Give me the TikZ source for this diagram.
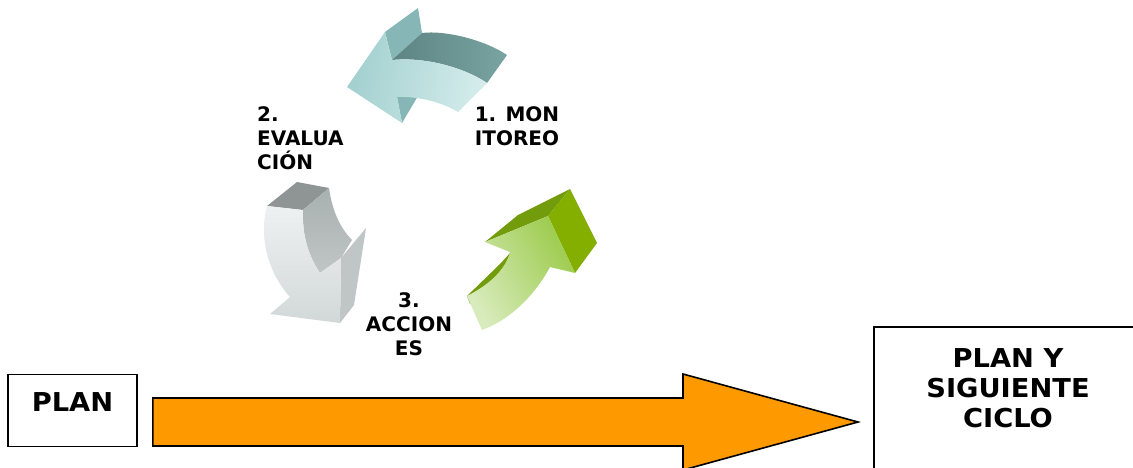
\documentclass[tikz,border=0pt]{standalone}
\usepackage{fontspec}
\setmainfont{DejaVu Sans}
\newfontfamily\stagefont[FakeStretch=1.05]{DejaVu Sans}
\usepackage{tikz}
\usetikzlibrary{calc}
\definecolor{arrowfill}{HTML}{FF9900}
\definecolor{tealfront}{HTML}{A2D0CF}
\definecolor{tealpale}{HTML}{D5ECEC}
\definecolor{tealside}{HTML}{86B7B6}
\definecolor{tealdark}{HTML}{5D8482}
\definecolor{tealmid}{HTML}{78A4A2}
\definecolor{greyfront}{HTML}{EEF1F1}
\definecolor{greyback}{HTML}{D2D8D8}
\definecolor{greytop}{HTML}{8F9494}
\definecolor{greyinner}{HTML}{A9B0B0}
\definecolor{greyside}{HTML}{C0C5C5}
\definecolor{greenpale}{HTML}{D8EBBC}
\definecolor{greenfront}{HTML}{9CCB4C}
\definecolor{greentop}{HTML}{739C0C}
\definecolor{greenside}{HTML}{84AF00}
\tikzset{cyclelabel/.style={font=\fontsize{20}{24}\selectfont\bfseries, inner sep=0pt},
  stagebox/.style={draw=black, line width=1.8pt, fill=white, inner sep=0pt},
  stagetext/.style={font=\stagefont\fontsize{26}{30}\selectfont\bfseries, inner sep=0pt},
  bigarrow/.style={fill=arrowfill, draw=black, line width=1.6pt}}

\begin{document}
\begin{tikzpicture}[x=1pt, y=-1pt]
      \useasboundingbox (0, 0) rectangle (1133, 467);
      \clip (0, 0) rectangle (1133, 467);

      \fill [tealside] (385, 32) -- (418, 8) -- (422, 33) -- (392, 60) -- cycle;
      \shade [left color=tealdark, right color=tealmid] (392, 60) -- (422, 33) .. controls (445, 30) and (485, 40) .. (507, 55) -- (487, 83) .. controls (460, 65) and (420, 57) .. (392, 60) -- cycle;
      \fill [tealside] (397, 97) -- (418, 96) -- (402, 123) -- cycle;
      \shade [left color=tealfront, right color=tealpale, shading angle=80] (347, 87) -- (385, 32) -- (392, 60) .. controls (420, 57) and (460, 65) .. (487, 83) -- (458, 112) .. controls (440, 101) and (415, 96) .. (397, 97) -- (402, 123) -- cycle;

      \fill [greytop] (267, 206) -- (297, 182) -- (329, 188) -- (303, 210) -- cycle;
      \shade [top color=greyinner, bottom color=greyside] (303, 210) -- (329, 188) .. controls (332, 210) and (340, 228) .. (352, 240) -- (341, 258) -- (320, 273) .. controls (308, 255) and (302, 235) .. (303, 210) -- cycle;
      \fill [greyside] (341, 258) -- (366, 228) -- (354, 305) -- (340, 323) -- cycle;
      \shade [top color=greyfront, bottom color=greyback] (267, 206) .. controls (258, 240) and (270, 275) .. (290, 297) -- (270, 314) -- (340, 323) -- (341, 258) -- (320, 273) .. controls (308, 255) and (302, 235) .. (303, 210) -- cycle;

      \fill [greentop] (485, 242) -- (518, 215) -- (570, 189) -- (548, 216) -- cycle;
      \fill [greenside] (548, 216) -- (570, 189) -- (597, 243) -- (575, 273) -- cycle;
      \fill [greentop] (467, 296) -- (500, 264) -- (511, 252) -- (505, 268) .. controls (490, 282) .. (470, 304) -- cycle;
      \shade [left color=greenpale, right color=greenfront, shading angle=120] (485, 242) -- (548, 216) -- (575, 273) -- (550, 267) .. controls (535, 295) and (510, 320) .. (482, 330) -- (467, 296) .. controls (485, 287) and (505, 272) .. (510, 252) -- cycle;

      \node [cyclelabel, align=center, anchor=north] (monitoreo) at (517, 106) {1. MON\\ITOREO};
      \node [cyclelabel, align=left, anchor=north west] (evaluacion) at (257, 106) {2.\\EVALUA\\CIÓN};
      \node [cyclelabel, align=center, anchor=north] (acciones) at (409, 292) {3.\\ACCION\\ES};

      \node [stagebox, stagetext, minimum width=129, minimum height=72, text depth=16] (plan) at (72.5, 410.5) {PLAN};
      \node [stagebox, anchor=north west, minimum width=300, minimum height=200] (nextbox) at (873, 326) {};
      \node [stagetext, align=center, anchor=north] (nexttext) at (1008, 348) {PLAN Y\\SIGUIENTE\\CICLO};

      \coordinate (arrtail) at ($(plan.east |- 0, 422) + (15, 0)$);
      \coordinate (arrtip) at ($(nextbox.west |- 0, 422) + (-15, 0)$);
      \draw [bigarrow] ($(arrtail) + (0, -24)$) -- ($(arrtip) + (-175, -24)$) -- ($(arrtip) + (-175, -48)$) -- (arrtip) -- ($(arrtip) + (-175, 48)$) -- ($(arrtip) + (-175, 24)$) -- ($(arrtail) + (0, 24)$) -- cycle;
    \end{tikzpicture}
\end{document}
